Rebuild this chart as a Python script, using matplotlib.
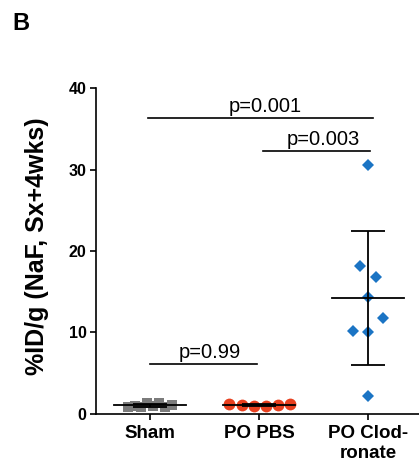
import numpy as np
import matplotlib
matplotlib.use("Agg")
import matplotlib.pyplot as plt

plt.rcParams['font.family'] = ['Liberation Sans', 'DejaVu Sans']

# ── Data ─────────────────────────────────────────────────────────────────────
groups = ['Sham', 'PO PBS', 'PO Clod-\nronate']
sham = [0.8, 1.0, 0.9, 1.3, 1.0, 1.4, 0.9, 1.1]
sham_dx = [-0.20, -0.14, -0.08, -0.03, 0.03, 0.08, 0.14, 0.20]
pbs = [1.2, 1.1, 1.0, 1.0, 1.1, 1.2]
pbs_dx = [-0.28, -0.16, -0.05, 0.06, 0.17, 0.28]
clod = [30.6, 18.2, 16.8, 14.3, 11.8, 10.2, 10.0, 2.25]
clod_dx = [0.0, -0.07, 0.07, 0.0, 0.14, -0.14, 0.0, 0.0]

# significance brackets: (x start, x end, y, label, label x)
sig_x0 = [-0.02, 1.04, 0.0]
sig_x1 = [2.05, 2.02, 0.98]
sig_y = [36.3, 32.3, 6.1]
sig_txt = ['p=0.001', 'p=0.003', 'p=0.99']
sig_tx = [1.055, 1.585, 0.55]

yticks = [0, 10, 20, 30, 40]

# ── Plot ─────────────────────────────────────────────────────────────────────
fig = plt.figure(figsize=(4.19, 4.65), dpi=100)
ax = fig.add_axes([0.2284, 0.1097, 0.780, 0.701])

series = [
    (sham, sham_dx, 's', '#7b7b7b', 7.5),
    (pbs, pbs_dx, 'o', '#e8401f', 8.5),
    (clod, clod_dx, 'D', '#1b74c4', 5.8),
]
for i, (vals, dx, mk, col, ms) in enumerate(series):
    xs = i + np.array(dx)
    ax.plot(xs, vals, linestyle='none', marker=mk, color=col,
            markersize=ms, markeredgewidth=0, zorder=2)
    m = np.mean(vals)
    sd = np.std(vals, ddof=1)
    ax.plot([i - 0.33, i + 0.33], [m, m], color='black', lw=1.3, zorder=3)
    ax.errorbar([i], [m], yerr=[sd], fmt='none', ecolor='black',
                elinewidth=1.3, capsize=12, capthick=1.3, zorder=3)

for x0, x1, y, txt, tx in zip(sig_x0, sig_x1, sig_y, sig_txt, sig_tx):
    ax.plot([x0, x1], [y, y], color='black', lw=1.2, clip_on=False)
    ax.text(tx, y + 0.25, txt, ha='center', va='bottom', fontsize=14.5)

ax.set_xlim(-0.5, 2.5)
ax.set_ylim(0, 40)
ax.set_yticks(yticks)
ax.set_xticks(range(len(groups)))
ax.set_xticklabels(groups, fontsize=13.5, fontweight='bold', linespacing=1.2)
ax.tick_params(axis='y', labelsize=11.5, width=1.2, length=4.5, pad=2)
ax.tick_params(axis='x', width=1.2, length=4.5, pad=3.5)
for lab in ax.get_yticklabels():
    lab.set_fontweight('bold')

ax.spines['top'].set_visible(False)
ax.spines['right'].set_visible(False)
for s in ['left', 'bottom']:
    ax.spines[s].set_linewidth(1.2)

fig.text(37 / 419, 0.471, '%ID/g (NaF, Sx+4wks)', rotation=90, ha='center',
         va='center', fontsize=18, fontweight='bold')
fig.text(12 / 419, 0.975, 'B', ha='left', va='top', fontsize=17, fontweight='bold')

fig.savefig('out.png', dpi=100)
